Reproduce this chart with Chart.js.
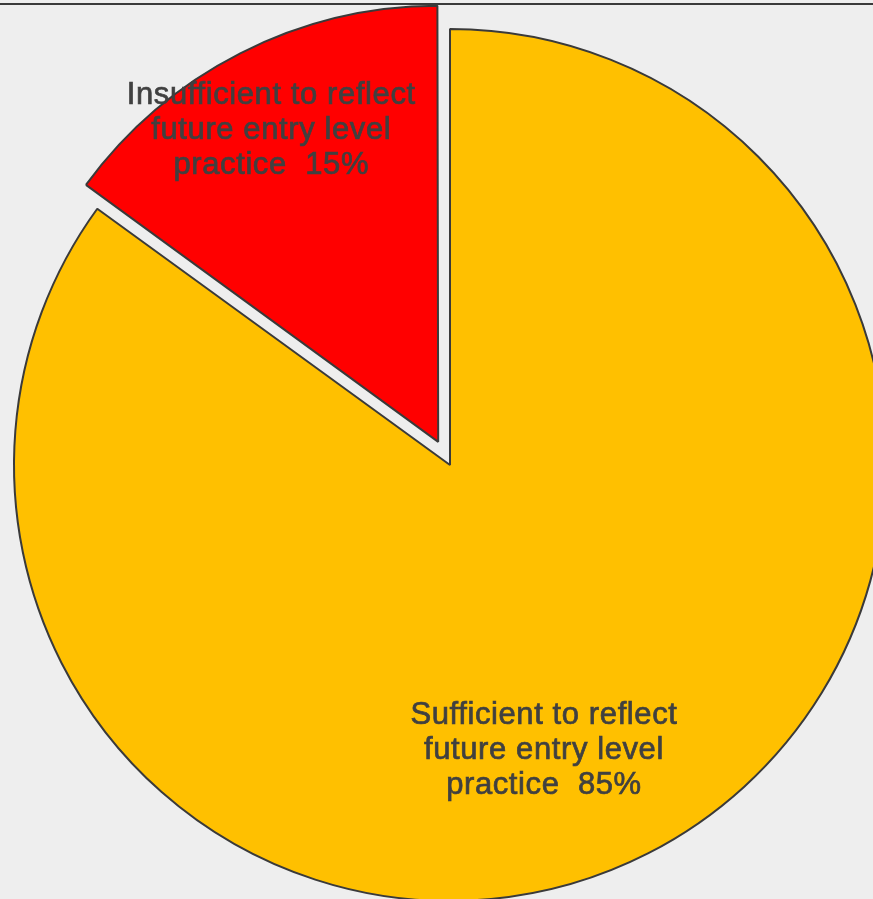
<!DOCTYPE html>
<html>
<head>
<meta charset="utf-8">
<script src="https://cdn.jsdelivr.net/npm/chart.js@4.4.1/dist/chart.umd.min.js"></script>
<style>
  html, body { margin: 0; padding: 0; background: #eeeeee; overflow: hidden; width: 873px; height: 899px; }
  #topline { position: absolute; left: 0; top: 3px; width: 873px; height: 2px; background: #3a3a3a; z-index: 2; }
  #wrap { position: absolute; left: 0; top: 0; width: 900px; height: 930px; }
</style>
</head>
<body>
<div id="topline"></div>
<div id="wrap"><canvas id="pie" width="900" height="930"></canvas></div>
<script>
// データ
const categories = ['Sufficient to reflect future entry level practice', 'Insufficient to reflect future entry level practice'];
const labelLines = [
  ['Sufficient to reflect', 'future entry level', 'practice  85%'],
  ['Insufficient to reflect', 'future entry level', 'practice  15%']
];
const values = [85, 15];
const colors = ['#FFC000', '#FF0000'];
const offsets = [0, 104]; // Chart.js translates by offset/4

// offset によって半径が膨らむのを戻す
const radiusFix = {
  id: 'radiusFix',
  afterDatasetUpdate(chart, args) {
    args.meta.data.forEach((arc, i) => {
      const off = (offsets[i] || 0) / 4;
      const fix = 1 - Math.sin(Math.min(Math.PI, arc.circumference || 0));
      arc.outerRadius -= off * fix;
    });
  }
};

// スライス内のラベル
const sliceLabels = {
  id: 'sliceLabels',
  afterDatasetsDraw(chart, args, opts) {
    const ctx = chart.ctx;
    const meta = chart.getDatasetMeta(0);
    ctx.save();
    ctx.font = '31px "Liberation Sans", Arial, sans-serif';
    ctx.letterSpacing = '0.6px';
    ctx.fillStyle = '#404040';
    ctx.strokeStyle = '#404040';
    ctx.lineWidth = 0.7;
    ctx.textAlign = 'center';
    ctx.textBaseline = 'middle';
    meta.data.forEach((arc, i) => {
      const mid = (arc.startAngle + arc.endAngle) / 2 + opts.angleShift[i] * Math.PI / 180;
      const r = arc.outerRadius * opts.radiusFrac[i] + (offsets[i] || 0) / 4;
      const cx = arc.x + Math.cos(mid) * r;
      const cy = arc.y + Math.sin(mid) * r;
      const lines = labelLines[i];
      lines.forEach((t, j) => {
        const y = cy + (j - (lines.length - 1) / 2) * 35;
        ctx.fillText(t, cx, y);
        ctx.strokeText(t, cx, y);
      });
    });
    ctx.restore();
  }
};

new Chart(document.getElementById('pie'), {
  type: 'pie',
  data: {
    labels: categories,
    datasets: [{
      data: values,
      backgroundColor: colors,
      borderColor: '#3a3a3a',
      borderWidth: 2,
      offset: offsets,
      hoverOffset: 0
    }]
  },
  options: {
    responsive: false,
    animation: false,
    radius: 436,
    layout: { padding: 0 },
    events: [],
    plugins: {
      legend: { display: false },
      tooltip: { enabled: false },
      sliceLabels: { radiusFrac: [0.69, 0.82], angleShift: [8.8, -1.1] }
    }
  },
  plugins: [radiusFix, sliceLabels]
});
</script>
</body>
</html>
